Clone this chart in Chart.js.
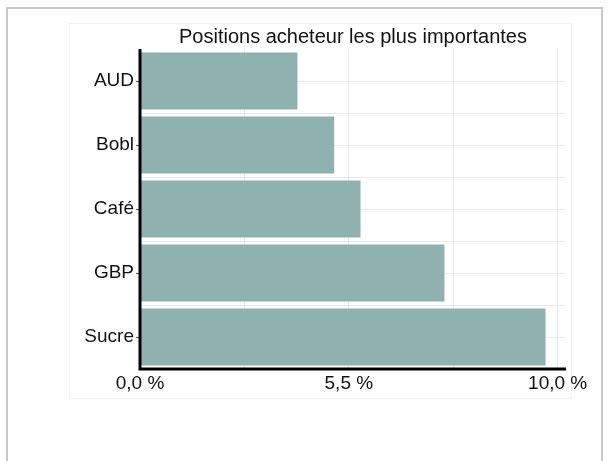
<!DOCTYPE html>
<html>
<head>
<meta charset="utf-8">
<script src="https://cdn.jsdelivr.net/npm/chart.js@4.4.1/dist/chart.umd.min.js"></script>
<style>
  body { margin: 0; background: #fff; }
  #wrap { position: relative; width: 608px; height: 461px; overflow: hidden; }
  #frame { position: absolute; left: 6px; top: 7px; width: 593px; height: 470px; border: 2px solid #c8c8c8; }
  #panel { position: absolute; left: 69px; top: 23px; width: 501px; height: 374px; border: 1px solid #f2f2f2; }
  canvas { position: absolute; left: 0; top: 0; }
</style>
</head>
<body>
<div id="wrap">
  <div id="frame"></div>
  <div id="panel"></div>
  <canvas id="chart" width="608" height="461"></canvas>
</div>
<script>
const titleText = "Positions acheteur les plus importantes";
const categories = ["AUD", "Bobl", "Café", "GBP", "Sucre"];
const values = [3.77, 4.65, 5.28, 7.29, 9.71];
const gridValues = [0, 2.5, 5, 7.5, 10];
const tickValues = [0, 5, 10];
const tickLabels = ["0,0 %", "5,5 %", "10,0 %"];

const gridColor = "#ebebeb";
const fontFamily = "Liberation Sans, Arial, sans-serif";

// faint lines between the categories (ggplot minor grid)
const minorGrid = {
  id: "minorGrid",
  beforeDatasetsDraw(chart) {
    const { ctx, chartArea } = chart;
    const y = chart.scales.y;
    ctx.save();
    ctx.strokeStyle = gridColor;
    ctx.lineWidth = 1;
    for (let i = 0; i < categories.length - 1; i++) {
      const py = Math.round((y.getPixelForValue(i) + y.getPixelForValue(i + 1)) / 2) + 0.5;
      ctx.beginPath();
      ctx.moveTo(chartArea.left, py);
      ctx.lineTo(chartArea.right, py);
      ctx.stroke();
    }
    ctx.restore();
  },
  // axis lines go on top of the bars
  afterDatasetsDraw(chart) {
    const { ctx, chartArea } = chart;
    ctx.save();
    ctx.strokeStyle = "#000";
    ctx.lineWidth = 3;
    ctx.beginPath();
    ctx.moveTo(chartArea.left, chartArea.top);
    ctx.lineTo(chartArea.left, chartArea.bottom);
    ctx.lineTo(chartArea.right, chartArea.bottom);
    ctx.stroke();
    ctx.restore();
  }
};

new Chart(document.getElementById("chart"), {
  type: "bar",
  data: {
    labels: categories,
    datasets: [{
      data: values,
      backgroundColor: "#8fb1b0",
      borderWidth: 0,
      barPercentage: 0.89,
      categoryPercentage: 1
    }]
  },
  options: {
    indexAxis: "y",
    responsive: false,
    animation: false,
    layout: { padding: { left: 0, right: 42, top: 21, bottom: 62 } },
    plugins: {
      legend: { display: false },
      tooltip: { enabled: false },
      title: {
        display: true,
        text: titleText,
        fullSize: false,
        color: "#111",
        font: { family: fontFamily, size: 20, weight: "normal" },
        padding: { top: 4, bottom: 0 }
      }
    },
    scales: {
      x: {
        min: 0,
        max: 10.2,
        afterBuildTicks: s => { s.ticks = gridValues.map(v => ({ value: v })); },
        afterFit: s => { s.height = 30; },
        grid: { color: gridColor, drawTicks: false },
        border: { display: false },
        ticks: {
          autoSkip: false,
          maxRotation: 0,
          padding: 3,
          color: "#111",
          font: { family: fontFamily, size: 19 },
          callback: v => {
            const i = tickValues.indexOf(v);
            return i < 0 ? "" : tickLabels[i];
          }
        }
      },
      y: {
        afterFit: s => { s.width = 140; },
        grid: { color: gridColor, offset: false, tickLength: 4, tickColor: "#555" },
        border: { display: false },
        ticks: {
          padding: 2,
          color: "#111",
          font: { family: fontFamily, size: 19 }
        }
      }
    }
  },
  plugins: [minorGrid]
});
</script>
</body>
</html>
